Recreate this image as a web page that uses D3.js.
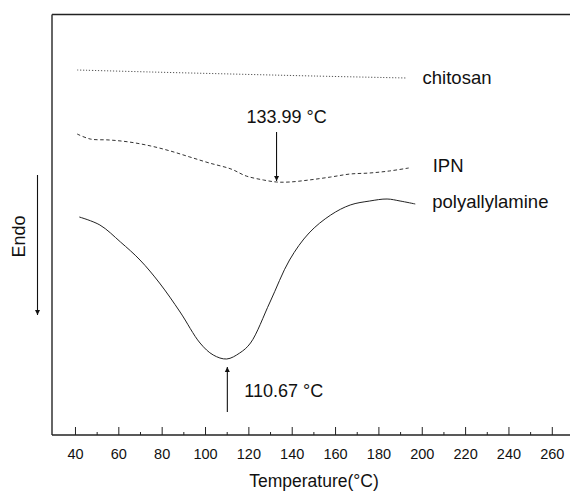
<!DOCTYPE html>
<html>
<head>
<meta charset="utf-8">
<script src="https://cdn.jsdelivr.net/npm/d3@7"></script>
<style>
  html, body { margin: 0; padding: 0; background: #fff; }
  svg { display: block; }
  text { font-family: "Liberation Sans", Arial, sans-serif; fill: #111; }
</style>
</head>
<body>
<svg id="chart" width="570" height="491"></svg>
<script>
// ---- data (temperature °C, heat flow in arbitrary units) ----
const chitosanT = [41, 75, 112, 150, 193];
const chitosanY = [365, 363, 361, 359, 357];

const ipnT = [41, 47, 56, 65, 75, 84, 93, 102, 112, 119, 127, 133, 139, 148, 158, 167, 176, 185, 194];
const ipnY = [301, 296, 295, 293, 289, 284, 278, 272, 266, 259, 255, 253, 253, 255, 258, 261, 262, 264, 267];

const polyT = [42, 51.5, 61, 70, 79, 88.5, 97.7, 103.8, 110, 116, 121, 130, 139, 148, 158, 167, 176, 184, 190, 197];
const polyY = [218, 210, 193, 175, 152, 123, 92, 80, 76, 82, 92, 133, 175, 202, 220, 230, 234, 236, 234, 231];

const seriesNames = ["chitosan", "IPN", "polyallylamine"];
const xTicks = [40, 60, 80, 100, 120, 140, 160, 180, 200, 220, 240, 260];
const xMinorTicks = [50, 70, 90, 110, 130, 150, 170, 190, 210, 230, 250];
const peakLabels = ["133.99 °C", "110.67 °C"];
const peakT = [133, 110.3];

// ---- layout ----
const svg = d3.select("#chart");
const pLeft = 52, pRight = 570, pTop = 14.5, pBottom = 435;

const x = d3.scaleLinear().domain([29.4, 268.4]).range([pLeft, pRight]);
const y = d3.scaleLinear().domain([0, 420.5]).range([pBottom, pTop]);

// frame
svg.append("line").attr("x1", pLeft).attr("x2", pRight).attr("y1", pTop).attr("y2", pTop)
  .attr("stroke", "#222").attr("stroke-width", 1.3);
svg.append("line").attr("x1", pLeft).attr("x2", pLeft).attr("y1", pTop).attr("y2", pBottom)
  .attr("stroke", "#333").attr("stroke-width", 1.5);

// bottom axis with inward ticks
const xAxis = d3.axisBottom(x).tickValues(xTicks).tickSize(-8).tickPadding(14)
  .tickFormat(d3.format("d"));
const gx = svg.append("g").attr("transform", `translate(0,${pBottom})`).call(xAxis);
gx.select(".domain").attr("d", `M${pLeft},0H${pRight}`).attr("stroke", "#222").attr("stroke-width", 1.3);
gx.selectAll(".tick line").attr("stroke", "#222");
gx.selectAll(".tick text").attr("font-size", 14.5).attr("fill", "#111")
  .attr("font-family", "'Liberation Sans', Arial, sans-serif");

const gxm = svg.append("g").attr("transform", `translate(0,${pBottom})`)
  .call(d3.axisBottom(x).tickValues(xMinorTicks).tickSize(-3).tickFormat(""));
gxm.select(".domain").remove();
gxm.selectAll(".tick line").attr("stroke", "#222");

// axis title
svg.append("text").attr("x", 314).attr("y", 487).attr("text-anchor", "middle")
  .attr("font-size", 17.5).text("Temperature(°C)");

// curves
const line = d3.line().x(d => x(d[0])).y(d => y(d[1])).curve(d3.curveCatmullRom.alpha(0.5));
const zip = (a, b) => a.map((v, i) => [v, b[i]]);

svg.append("path").datum(zip(chitosanT, chitosanY)).attr("d", line)
  .attr("fill", "none").attr("stroke", "#555").attr("stroke-width", 1).attr("stroke-dasharray", "1.2,1.8");
svg.append("path").datum(zip(ipnT, ipnY)).attr("d", line)
  .attr("fill", "none").attr("stroke", "#333").attr("stroke-width", 1).attr("stroke-dasharray", "3.5,2.5");
svg.append("path").datum(zip(polyT, polyY)).attr("d", line)
  .attr("fill", "none").attr("stroke", "#222").attr("stroke-width", 1);

// series labels
const ends = [
  [chitosanT[chitosanT.length - 1], chitosanY[chitosanY.length - 1], 16, 6],
  [ipnT[ipnT.length - 1], ipnY[ipnY.length - 1], 24, 4],
  [polyT[polyT.length - 1], polyY[polyY.length - 1], 17, 4]
];
seriesNames.forEach((n, i) => {
  const e = ends[i];
  svg.append("text").attr("x", x(e[0]) + e[2]).attr("y", y(e[1]) + e[3])
    .attr("font-size", 18.5).text(n);
});

// arrow marker
const defs = svg.append("defs");
defs.append("marker").attr("id", "ah").attr("viewBox", "0 0 10 10").attr("refX", 10).attr("refY", 5)
  .attr("markerWidth", 5).attr("markerHeight", 7).attr("markerUnits", "userSpaceOnUse").attr("orient", "auto")
  .append("path").attr("d", "M0,0L10,5L0,10Z").attr("fill", "#111");

// IPN peak annotation (arrow pointing down)
svg.append("line").attr("x1", x(peakT[0])).attr("x2", x(peakT[0]))
  .attr("y1", y(303)).attr("y2", y(254)).attr("stroke", "#111").attr("stroke-width", 1.1)
  .attr("marker-end", "url(#ah)");
svg.append("text").attr("x", x(peakT[0]) + 10).attr("y", y(312)).attr("text-anchor", "middle")
  .attr("font-size", 18).text(peakLabels[0]);

// polyallylamine peak annotation (arrow pointing up)
svg.append("line").attr("x1", x(peakT[1])).attr("x2", x(peakT[1]))
  .attr("y1", y(23)).attr("y2", y(68)).attr("stroke", "#111").attr("stroke-width", 1.1)
  .attr("marker-end", "url(#ah)");
svg.append("text").attr("x", x(peakT[1]) + 17).attr("y", y(38.5)).attr("text-anchor", "start")
  .attr("font-size", 18).text(peakLabels[1]);

// Endo label and arrow
svg.append("text").attr("transform", "translate(24.5,236.5) rotate(-90)").attr("text-anchor", "middle")
  .attr("font-size", 18).text("Endo");
svg.append("line").attr("x1", 37.5).attr("x2", 37.5).attr("y1", 175).attr("y2", 315)
  .attr("stroke", "#111").attr("stroke-width", 1.1).attr("marker-end", "url(#ah)");
</script>
</body>
</html>
